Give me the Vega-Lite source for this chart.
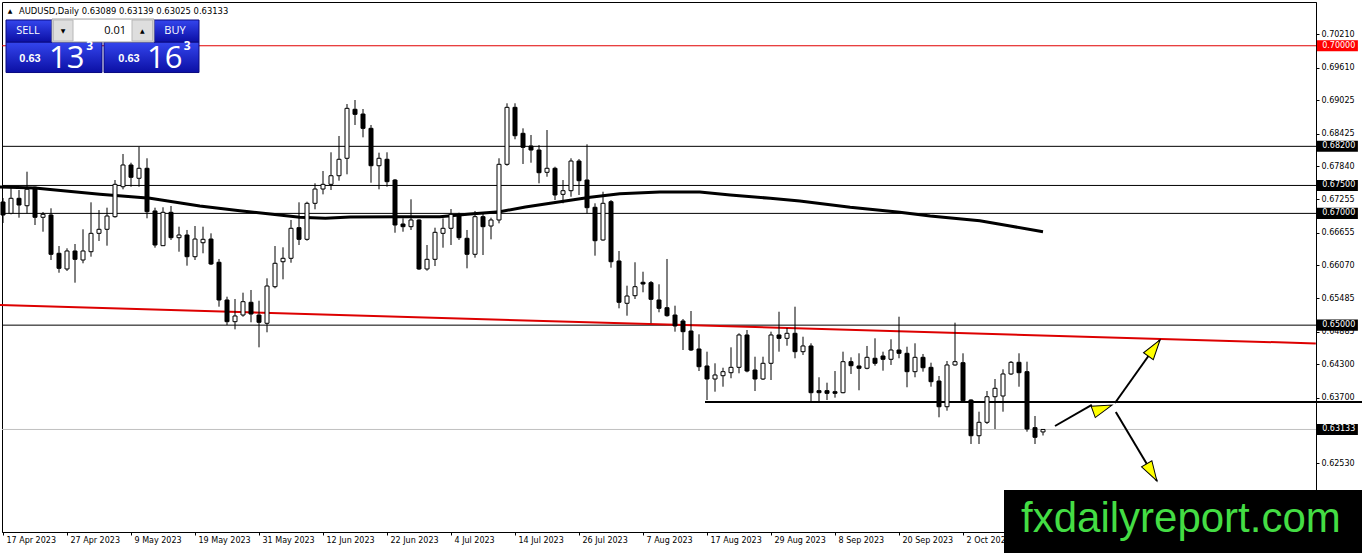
{
  "$schema": "https://vega.github.io/schema/vega-lite/v6.json",
  "width": 1314,
  "height": 530,
  "autosize": {"type": "none"},
  "padding": {"left": 2, "top": 2, "right": 46, "bottom": 21},
  "background": "white",
  "config": {"view": {"stroke": "black", "strokeWidth": 1}, "font": "DejaVu Sans", "scale": {"continuousPadding": 0}},
  "datasets": {
    "candles": [
      {"i":0,"o":0.67204,"h":0.67275,"l":0.66828,"c":0.66971},
      {"i":1,"o":0.67001,"h":0.67477,"l":0.66983,"c":0.67270},
      {"i":2,"o":0.67270,"h":0.67418,"l":0.66923,"c":0.67150},
      {"i":3,"o":0.67137,"h":0.67746,"l":0.67001,"c":0.67431},
      {"i":4,"o":0.67467,"h":0.67477,"l":0.66792,"c":0.66930},
      {"i":5,"o":0.66930,"h":0.67025,"l":0.66672,"c":0.66983},
      {"i":6,"o":0.66971,"h":0.67091,"l":0.66166,"c":0.66268},
      {"i":7,"o":0.66286,"h":0.66416,"l":0.65938,"c":0.66017},
      {"i":8,"o":0.66005,"h":0.66375,"l":0.65969,"c":0.66327},
      {"i":9,"o":0.66327,"h":0.66452,"l":0.65760,"c":0.66178},
      {"i":10,"o":0.66166,"h":0.66715,"l":0.66107,"c":0.66327},
      {"i":11,"o":0.66314,"h":0.67198,"l":0.66225,"c":0.66643},
      {"i":12,"o":0.66643,"h":0.67060,"l":0.66506,"c":0.66715},
      {"i":13,"o":0.66715,"h":0.67102,"l":0.66422,"c":0.66953},
      {"i":14,"o":0.66941,"h":0.67597,"l":0.66923,"c":0.67520},
      {"i":15,"o":0.67477,"h":0.68063,"l":0.67431,"c":0.67866},
      {"i":16,"o":0.67866,"h":0.67907,"l":0.67477,"c":0.67646},
      {"i":17,"o":0.67628,"h":0.68193,"l":0.67477,"c":0.67807},
      {"i":18,"o":0.67807,"h":0.67986,"l":0.66912,"c":0.67030},
      {"i":19,"o":0.67043,"h":0.67102,"l":0.66386,"c":0.66434},
      {"i":20,"o":0.66422,"h":0.67109,"l":0.66416,"c":0.67019},
      {"i":21,"o":0.67019,"h":0.67132,"l":0.66524,"c":0.66565},
      {"i":22,"o":0.66565,"h":0.66762,"l":0.66314,"c":0.66613},
      {"i":23,"o":0.66613,"h":0.66703,"l":0.66064,"c":0.66225},
      {"i":24,"o":0.66225,"h":0.66774,"l":0.66166,"c":0.66541},
      {"i":25,"o":0.66475,"h":0.66762,"l":0.66286,"c":0.66536},
      {"i":26,"o":0.66541,"h":0.66643,"l":0.66076,"c":0.66094},
      {"i":27,"o":0.66125,"h":0.66184,"l":0.65330,"c":0.65450},
      {"i":28,"o":0.65450,"h":0.65509,"l":0.65002,"c":0.65062},
      {"i":29,"o":0.65062,"h":0.65468,"l":0.64925,"c":0.65164},
      {"i":30,"o":0.65181,"h":0.65581,"l":0.65151,"c":0.65420},
      {"i":31,"o":0.65409,"h":0.65629,"l":0.65051,"c":0.65199},
      {"i":32,"o":0.65181,"h":0.65437,"l":0.64603,"c":0.65051},
      {"i":33,"o":0.65033,"h":0.65838,"l":0.64872,"c":0.65700},
      {"i":34,"o":0.65688,"h":0.66416,"l":0.65659,"c":0.66107},
      {"i":35,"o":0.66135,"h":0.66393,"l":0.65820,"c":0.66196},
      {"i":36,"o":0.66196,"h":0.66882,"l":0.66117,"c":0.66733},
      {"i":37,"o":0.66744,"h":0.67198,"l":0.66434,"c":0.66536},
      {"i":38,"o":0.66536,"h":0.67209,"l":0.66511,"c":0.67180},
      {"i":39,"o":0.67180,"h":0.67538,"l":0.67073,"c":0.67436},
      {"i":40,"o":0.67436,"h":0.67758,"l":0.67341,"c":0.67520},
      {"i":41,"o":0.67520,"h":0.68093,"l":0.67418,"c":0.67674},
      {"i":42,"o":0.67674,"h":0.68385,"l":0.67585,"c":0.67968},
      {"i":43,"o":0.67986,"h":0.68957,"l":0.67699,"c":0.68880},
      {"i":44,"o":0.68863,"h":0.69029,"l":0.68582,"c":0.68773},
      {"i":45,"o":0.68778,"h":0.68868,"l":0.68361,"c":0.68522},
      {"i":46,"o":0.68522,"h":0.68582,"l":0.67549,"c":0.67853},
      {"i":47,"o":0.67853,"h":0.68086,"l":0.67431,"c":0.67986},
      {"i":48,"o":0.67968,"h":0.68093,"l":0.67477,"c":0.67567},
      {"i":49,"o":0.67597,"h":0.67615,"l":0.66654,"c":0.66792},
      {"i":50,"o":0.66810,"h":0.66912,"l":0.66672,"c":0.66762},
      {"i":51,"o":0.66762,"h":0.67252,"l":0.66703,"c":0.66882},
      {"i":52,"o":0.66882,"h":0.66894,"l":0.65987,"c":0.66005},
      {"i":53,"o":0.66005,"h":0.66434,"l":0.65974,"c":0.66178},
      {"i":54,"o":0.66178,"h":0.66744,"l":0.66058,"c":0.66661},
      {"i":55,"o":0.66643,"h":0.66912,"l":0.66386,"c":0.66733},
      {"i":56,"o":0.66733,"h":0.67078,"l":0.66434,"c":0.66983},
      {"i":57,"o":0.66983,"h":0.67012,"l":0.66524,"c":0.66565},
      {"i":58,"o":0.66554,"h":0.66703,"l":0.66017,"c":0.66268},
      {"i":59,"o":0.66268,"h":0.67043,"l":0.66207,"c":0.66941},
      {"i":60,"o":0.66941,"h":0.67001,"l":0.66255,"c":0.66762},
      {"i":61,"o":0.66774,"h":0.66923,"l":0.66536,"c":0.66882},
      {"i":62,"o":0.66882,"h":0.67986,"l":0.66822,"c":0.67878},
      {"i":63,"o":0.67878,"h":0.68970,"l":0.67853,"c":0.68898},
      {"i":64,"o":0.68898,"h":0.68970,"l":0.68326,"c":0.68390},
      {"i":65,"o":0.68433,"h":0.68522,"l":0.67884,"c":0.68182},
      {"i":66,"o":0.68206,"h":0.68403,"l":0.67907,"c":0.68134},
      {"i":67,"o":0.68134,"h":0.68224,"l":0.67538,"c":0.67728},
      {"i":68,"o":0.67735,"h":0.68492,"l":0.67656,"c":0.67807},
      {"i":69,"o":0.67807,"h":0.67835,"l":0.67239,"c":0.67329},
      {"i":70,"o":0.67341,"h":0.67597,"l":0.67180,"c":0.67406},
      {"i":71,"o":0.67406,"h":0.67986,"l":0.67298,"c":0.67937},
      {"i":72,"o":0.67937,"h":0.67973,"l":0.67329,"c":0.67585},
      {"i":73,"o":0.67597,"h":0.68236,"l":0.67001,"c":0.67102},
      {"i":74,"o":0.67109,"h":0.67180,"l":0.66243,"c":0.66511},
      {"i":75,"o":0.66524,"h":0.67388,"l":0.66511,"c":0.67180},
      {"i":76,"o":0.67209,"h":0.67239,"l":0.66028,"c":0.66135},
      {"i":77,"o":0.66148,"h":0.66327,"l":0.65301,"c":0.65409},
      {"i":78,"o":0.65391,"h":0.65706,"l":0.65169,"c":0.65521},
      {"i":79,"o":0.65527,"h":0.66125,"l":0.65468,"c":0.65688},
      {"i":80,"o":0.65767,"h":0.65956,"l":0.65588,"c":0.65736},
      {"i":81,"o":0.65760,"h":0.65790,"l":0.65033,"c":0.65462},
      {"i":82,"o":0.65450,"h":0.65731,"l":0.65230,"c":0.65301},
      {"i":83,"o":0.65312,"h":0.66184,"l":0.65151,"c":0.65169},
      {"i":84,"o":0.65181,"h":0.65348,"l":0.64883,"c":0.64985},
      {"i":85,"o":0.65074,"h":0.65110,"l":0.64555,"c":0.64883},
      {"i":86,"o":0.64895,"h":0.65253,"l":0.64537,"c":0.64555},
      {"i":87,"o":0.64573,"h":0.64836,"l":0.64179,"c":0.64256},
      {"i":88,"o":0.64269,"h":0.64525,"l":0.63660,"c":0.64036},
      {"i":89,"o":0.64036,"h":0.64317,"l":0.63809,"c":0.64108},
      {"i":90,"o":0.64095,"h":0.64238,"l":0.63898,"c":0.64167},
      {"i":91,"o":0.64149,"h":0.64603,"l":0.64049,"c":0.64245},
      {"i":92,"o":0.64245,"h":0.64854,"l":0.64138,"c":0.64824},
      {"i":93,"o":0.64824,"h":0.64913,"l":0.64156,"c":0.64179},
      {"i":94,"o":0.64197,"h":0.64435,"l":0.63821,"c":0.64036},
      {"i":95,"o":0.64036,"h":0.64435,"l":0.64018,"c":0.64317},
      {"i":96,"o":0.64317,"h":0.64883,"l":0.64018,"c":0.64824},
      {"i":97,"o":0.64824,"h":0.65240,"l":0.64525,"c":0.64764},
      {"i":98,"o":0.64764,"h":0.64949,"l":0.64632,"c":0.64854},
      {"i":99,"o":0.64854,"h":0.65330,"l":0.64407,"c":0.64525},
      {"i":100,"o":0.64525,"h":0.64793,"l":0.64466,"c":0.64627},
      {"i":101,"o":0.64627,"h":0.64675,"l":0.63630,"c":0.63791},
      {"i":102,"o":0.63827,"h":0.64067,"l":0.63630,"c":0.63791},
      {"i":103,"o":0.63827,"h":0.63970,"l":0.63660,"c":0.63780},
      {"i":104,"o":0.63809,"h":0.64179,"l":0.63702,"c":0.63780},
      {"i":105,"o":0.63791,"h":0.64525,"l":0.63780,"c":0.64346},
      {"i":106,"o":0.64346,"h":0.64424,"l":0.64126,"c":0.64274},
      {"i":107,"o":0.64269,"h":0.64496,"l":0.63834,"c":0.64228},
      {"i":108,"o":0.64228,"h":0.64627,"l":0.64210,"c":0.64424},
      {"i":109,"o":0.64407,"h":0.64764,"l":0.64274,"c":0.64317},
      {"i":110,"o":0.64448,"h":0.64525,"l":0.64185,"c":0.64389},
      {"i":111,"o":0.64389,"h":0.64747,"l":0.64287,"c":0.64555},
      {"i":112,"o":0.64555,"h":0.65151,"l":0.64407,"c":0.64496},
      {"i":113,"o":0.64496,"h":0.64614,"l":0.63888,"c":0.64167},
      {"i":114,"o":0.64167,"h":0.64675,"l":0.64067,"c":0.64424},
      {"i":115,"o":0.64424,"h":0.64484,"l":0.64167,"c":0.64238},
      {"i":116,"o":0.64245,"h":0.64328,"l":0.63898,"c":0.63988},
      {"i":117,"o":0.64000,"h":0.64090,"l":0.63351,"c":0.63540},
      {"i":118,"o":0.63540,"h":0.64358,"l":0.63469,"c":0.64287},
      {"i":119,"o":0.64287,"h":0.65044,"l":0.64274,"c":0.64346},
      {"i":120,"o":0.64328,"h":0.64496,"l":0.63630,"c":0.63648},
      {"i":121,"o":0.63660,"h":0.63673,"l":0.62873,"c":0.63021},
      {"i":122,"o":0.63021,"h":0.63451,"l":0.62873,"c":0.63261},
      {"i":123,"o":0.63261,"h":0.63821,"l":0.63231,"c":0.63719},
      {"i":124,"o":0.63719,"h":0.64036,"l":0.63141,"c":0.63870},
      {"i":125,"o":0.63732,"h":0.64210,"l":0.63451,"c":0.64126},
      {"i":126,"o":0.64126,"h":0.64358,"l":0.64108,"c":0.64335},
      {"i":127,"o":0.64335,"h":0.64496,"l":0.63898,"c":0.64149},
      {"i":128,"o":0.64167,"h":0.64346,"l":0.63093,"c":0.63141},
      {"i":129,"o":0.63165,"h":0.63374,"l":0.62873,"c":0.62993},
      {"i":130,"o":0.63089,"h":0.63139,"l":0.63025,"c":0.63133}
    ],
    "ma": [
      {"i":-0.4,"p":0.67472},{"i":4,"p":0.67454},{"i":5.9,"p":0.67427},{"i":12.1,"p":0.67341},
      {"i":18.4,"p":0.67270},{"i":24.6,"p":0.67132},{"i":29.6,"p":0.67048},{"i":33.4,"p":0.66988},
      {"i":37.1,"p":0.66930},{"i":40.3,"p":0.66912},{"i":43.4,"p":0.66935},{"i":49.6,"p":0.66941},
      {"i":54.6,"p":0.66941},{"i":58.4,"p":0.66988},{"i":62.1,"p":0.67030},{"i":65.3,"p":0.67114},
      {"i":68.4,"p":0.67180},{"i":73.4,"p":0.67288},{"i":77.1,"p":0.67352},{"i":82.1,"p":0.67383},
      {"i":87.1,"p":0.67383},{"i":90.9,"p":0.67329},{"i":95.9,"p":0.67270},{"i":99.6,"p":0.67222},
      {"i":105.9,"p":0.67109},{"i":112.1,"p":0.67019},{"i":115.9,"p":0.66953},{"i":122.1,"p":0.66869},
      {"i":125.9,"p":0.66774},{"i":130,"p":0.66672}
    ],
    "trend": [{"i":-0.375,"p":0.65359},{"i":164.1,"p":0.64673}],
    "levels": [
      {"p":0.70000,"kind":"red"},{"p":0.68200,"kind":"black"},{"p":0.67500,"kind":"black"},
      {"p":0.67000,"kind":"black"},{"p":0.65000,"kind":"black"}
    ],
    "bid": [{"p":0.63133,"kind":"black"}],
    "support": [{"i":87.75,"i2":169.9,"p":0.63625}],
    "arrows": [
      {"i":131.5,"p":0.63195,"i2":136.1,"p2":0.63571},
      {"i":139,"p":0.63607,"i2":144.6,"p2":0.64734},
      {"i":139.1,"p":0.63446,"i2":144.25,"p2":0.62211}
    ],
    "heads": [
      {"i":137.45,"p":0.63508,"heading":70},
      {"i":143.9,"p":0.64589,"heading":35.5},
      {"i":143.6,"p":0.62365,"heading":149.3}
    ],
    "watermark": [{"x0":125.125,"x1":169.875,"y0":0.62050,"y1":0.60900,"t":"fxdailyreport.com","i":127.25,"p":0.61298}],
    "panel": [
      {"part":"base","x0":0.375,"x1":12.375,"y0":0.70067,"y1":0.69521},
      {"part":"base","x0":12.625,"x1":24.5,"y0":0.70067,"y1":0.69521},
      {"part":"head","x0":0.375,"x1":6.125,"y0":0.70461,"y1":0.70067},
      {"part":"head","x0":18.875,"x1":24.5,"y0":0.70461,"y1":0.70067},
      {"part":"field","x0":6.125,"x1":18.875,"y0":0.70478,"y1":0.70067},
      {"part":"button","x0":6.3,"x1":8.75,"y0":0.70461,"y1":0.70085},
      {"part":"button","x0":16.125,"x1":18.7,"y0":0.70461,"y1":0.70085}
    ],
    "captions": [
      {"t":"SELL","i":3.125,"p":0.70264,"role":"tab"},
      {"t":"BUY","i":21.5,"p":0.70264,"role":"tab"},
      {"t":"0.01","i":15.375,"p":0.70264,"role":"lot"},
      {"t":"▼","i":7.5,"p":0.70264,"role":"spin"},
      {"t":"▲","i":17.4,"p":0.70264,"role":"spin"},
      {"t":"0.63","i":3.375,"p":0.69709,"role":"small"},
      {"t":"0.63","i":15.75,"p":0.69709,"role":"small"},
      {"t":"13","i":5.75,"p":0.69602,"role":"big"},
      {"t":"16","i":18,"p":0.69602,"role":"big"},
      {"t":"3","i":10.4,"p":0.69995,"role":"sup"},
      {"t":"3","i":22.6,"p":0.69995,"role":"sup"},
      {"t":"AUDUSD,Daily  0.63089 0.63139 0.63025 0.63133","i":2,"p":0.70568,"role":"header"},
      {"t":"▲","i":0.875,"p":0.70622,"role":"marker"}
    ]
  },
  "layer": [
    {
      "data": {"name": "levels"},
      "mark": {"type": "rule", "strokeWidth": 1},
      "encoding": {
        "y": {"field": "p", "type": "quantitative", "scale": {"domain": [0.61298, 0.70783], "zero": false, "nice": false, "padding": 0}},
        "color": {"field": "kind", "type": "nominal", "scale": {"domain": ["black", "red"], "range": ["#000000", "#e00000"]}, "legend": null}
      }
    },
    {
      "data": {"name": "bid"},
      "mark": {"type": "rule", "strokeWidth": 1, "color": "#c0c0c0"},
      "encoding": {
        "y": {"field": "p", "type": "quantitative", "scale": {"domain": [0.61298, 0.70783], "zero": false, "nice": false, "padding": 0}}
      }
    },
    {
      "data": {"name": "support"},
      "mark": {"type": "rule", "strokeWidth": 2, "color": "black"},
      "encoding": {
        "x": {"field": "i", "type": "quantitative", "scale": {"domain": [-0.125, 164.125], "zero": false, "nice": false, "padding": 0}},
        "x2": {"field": "i2"},
        "y": {"field": "p", "type": "quantitative", "scale": {"domain": [0.61298, 0.70783], "zero": false, "nice": false, "padding": 0}}
      }
    },
    {
      "data": {"name": "ma"},
      "mark": {"type": "line", "strokeWidth": 3, "color": "black"},
      "encoding": {
        "x": {"field": "i", "type": "quantitative", "scale": {"domain": [-0.125, 164.125], "zero": false, "nice": false, "padding": 0}},
        "y": {"field": "p", "type": "quantitative", "scale": {"domain": [0.61298, 0.70783], "zero": false, "nice": false, "padding": 0}},
        "order": {"field": "i"}
      }
    },
    {
      "data": {"name": "trend"},
      "mark": {"type": "line", "strokeWidth": 2, "color": "#dd0000"},
      "encoding": {
        "x": {"field": "i", "type": "quantitative", "scale": {"domain": [-0.125, 164.125], "zero": false, "nice": false, "padding": 0}},
        "y": {"field": "p", "type": "quantitative", "scale": {"domain": [0.61298, 0.70783], "zero": false, "nice": false, "padding": 0}}
      }
    },
    {
      "data": {"name": "candles"},
      "mark": {"type": "rule", "color": "black", "strokeWidth": 1},
      "encoding": {
        "x": {
          "field": "i", "type": "quantitative",
          "scale": {"domain": [-0.125, 164.125], "zero": false, "nice": false, "padding": 0},
          "axis": {
            "title": null, "values": [0,8,16,24,32,40,48,56,64,72,80,88,96,104,112,120],
            "labelExpr": "['17 Apr 2023','27 Apr 2023','9 May 2023','19 May 2023','31 May 2023','12 Jun 2023','22 Jun 2023','4 Jul 2023','14 Jul 2023','26 Jul 2023','7 Aug 2023','17 Aug 2023','29 Aug 2023','8 Sep 2023','20 Sep 2023','2 Oct 2023'][round(datum.value / 8)]",
            "labelAlign": "left", "labelBaseline": "top", "labelOffset": 3, "labelPadding": 1,
            "labelFont": "DejaVu Sans", "labelFontSize": 8, "labelColor": "black",
            "tickSize": 3, "tickColor": "black", "domainColor": "black",
            "labelOverlap": false, "labelFlush": false, "labelBound": false, "grid": false
          }
        },
        "y": {
          "field": "l", "type": "quantitative",
          "scale": {"domain": [0.61298, 0.70783], "zero": false, "nice": false, "padding": 0},
          "axis": {
            "title": null, "orient": "right",
            "values": [0.70210, 0.69610, 0.69025, 0.68425, 0.67840, 0.67255, 0.66655, 0.66070, 0.65485, 0.64885, 0.64300, 0.63700, 0.62530],
            "format": ".5f", "labelFont": "DejaVu Sans", "labelFontSize": 8, "labelColor": "black",
            "labelPadding": 2, "tickSize": 3, "tickColor": "black", "domainColor": "black",
            "labelOverlap": false, "labelBound": false, "grid": false
          }
        },
        "y2": {"field": "h"}
      }
    },
    {
      "data": {"name": "candles"},
      "mark": {"type": "bar", "size": 4, "stroke": "black", "strokeWidth": 1},
      "encoding": {
        "x": {"field": "i", "type": "quantitative", "scale": {"domain": [-0.125, 164.125], "zero": false, "nice": false, "padding": 0}},
        "y": {"field": "o", "type": "quantitative", "scale": {"domain": [0.61298, 0.70783], "zero": false, "nice": false, "padding": 0}},
        "y2": {"field": "c"},
        "fill": {"condition": {"test": "datum.c >= datum.o", "value": "white"}, "value": "black"}
      }
    },
    {
      "data": {"name": "arrows"},
      "mark": {"type": "rule", "strokeWidth": 2, "color": "black"},
      "encoding": {
        "x": {"field": "i", "type": "quantitative", "scale": {"domain": [-0.125, 164.125], "zero": false, "nice": false, "padding": 0}},
        "x2": {"field": "i2"},
        "y": {"field": "p", "type": "quantitative", "scale": {"domain": [0.61298, 0.70783], "zero": false, "nice": false, "padding": 0}},
        "y2": {"field": "p2"}
      }
    },
    {
      "data": {"name": "heads"},
      "mark": {"type": "point", "shape": "M0,-1L0.6,1L-0.6,1Z", "size": 400, "filled": true, "fill": "#ffff00", "stroke": "black", "strokeWidth": 1, "opacity": 1},
      "encoding": {
        "x": {"field": "i", "type": "quantitative", "scale": {"domain": [-0.125, 164.125], "zero": false, "nice": false, "padding": 0}},
        "y": {"field": "p", "type": "quantitative", "scale": {"domain": [0.61298, 0.70783], "zero": false, "nice": false, "padding": 0}},
        "angle": {"field": "heading", "type": "quantitative", "scale": null}
      }
    },
    {
      "data": {"name": "levels"},
      "mark": {"type": "point", "shape": "M-1,-0.27H1V0.27H-1Z", "size": 1681, "filled": true, "opacity": 1},
      "encoding": {
        "x": {"datum": 166.8, "type": "quantitative", "scale": {"domain": [-0.125, 164.125], "zero": false, "nice": false, "padding": 0}},
        "y": {"field": "p", "type": "quantitative", "scale": {"domain": [0.61298, 0.70783], "zero": false, "nice": false, "padding": 0}},
        "fill": {"field": "kind", "type": "nominal", "scale": {"domain": ["black", "red"], "range": ["#000000", "#ff0000"]}, "legend": null}
      }
    },
    {
      "data": {"name": "bid"},
      "mark": {"type": "point", "shape": "M-1,-0.27H1V0.27H-1Z", "size": 1681, "filled": true, "opacity": 1, "fill": "black"},
      "encoding": {
        "x": {"datum": 166.8, "type": "quantitative", "scale": {"domain": [-0.125, 164.125], "zero": false, "nice": false, "padding": 0}},
        "y": {"field": "p", "type": "quantitative", "scale": {"domain": [0.61298, 0.70783], "zero": false, "nice": false, "padding": 0}}
      }
    },
    {
      "data": {"name": "levels"},
      "mark": {"type": "text", "align": "left", "baseline": "middle", "font": "DejaVu Sans", "fontSize": 8, "color": "white"},
      "encoding": {
        "x": {"datum": 164.9, "type": "quantitative", "scale": {"domain": [-0.125, 164.125], "zero": false, "nice": false, "padding": 0}},
        "y": {"field": "p", "type": "quantitative", "scale": {"domain": [0.61298, 0.70783], "zero": false, "nice": false, "padding": 0}},
        "text": {"field": "p", "type": "quantitative", "format": ".5f"}
      }
    },
    {
      "data": {"name": "bid"},
      "mark": {"type": "text", "align": "left", "baseline": "middle", "font": "DejaVu Sans", "fontSize": 8, "color": "white"},
      "encoding": {
        "x": {"datum": 164.9, "type": "quantitative", "scale": {"domain": [-0.125, 164.125], "zero": false, "nice": false, "padding": 0}},
        "y": {"field": "p", "type": "quantitative", "scale": {"domain": [0.61298, 0.70783], "zero": false, "nice": false, "padding": 0}},
        "text": {"field": "p", "type": "quantitative", "format": ".5f"}
      }
    },
    {
      "data": {"name": "watermark"},
      "mark": {"type": "rect", "color": "black"},
      "encoding": {
        "x": {"field": "x0", "type": "quantitative", "scale": {"domain": [-0.125, 164.125], "zero": false, "nice": false, "padding": 0}},
        "x2": {"field": "x1"},
        "y": {"field": "y0", "type": "quantitative", "scale": {"domain": [0.61298, 0.70783], "zero": false, "nice": false, "padding": 0}},
        "y2": {"field": "y1"}
      }
    },
    {
      "data": {"name": "watermark"},
      "mark": {"type": "text", "align": "left", "baseline": "alphabetic", "font": "Liberation Sans", "fontSize": 42, "color": "#44dd44"},
      "encoding": {
        "x": {"field": "i", "type": "quantitative", "scale": {"domain": [-0.125, 164.125], "zero": false, "nice": false, "padding": 0}},
        "y": {"field": "p", "type": "quantitative", "scale": {"domain": [0.61298, 0.70783], "zero": false, "nice": false, "padding": 0}},
        "text": {"field": "t"}
      }
    },
    {
      "data": {"name": "panel"},
      "transform": [{"filter": {"field": "part", "oneOf": ["base", "head"]}}],
      "mark": {
        "type": "rect",
        "fill": {"gradient": "linear", "x1": 0, "y1": 0, "x2": 0, "y2": 1, "stops": [{"offset": 0, "color": "#3446ee"}, {"offset": 1, "color": "#0b0fa4"}]},
        "stroke": "#0a0a80", "strokeWidth": 1
      },
      "encoding": {
        "x": {"field": "x0", "type": "quantitative", "scale": {"domain": [-0.125, 164.125], "zero": false, "nice": false, "padding": 0}},
        "x2": {"field": "x1"},
        "y": {"field": "y0", "type": "quantitative", "scale": {"domain": [0.61298, 0.70783], "zero": false, "nice": false, "padding": 0}},
        "y2": {"field": "y1"}
      }
    },
    {
      "data": {"name": "panel"},
      "transform": [{"filter": {"field": "part", "equal": "field"}}],
      "mark": {"type": "rect", "fill": "white", "stroke": "#a0a0a0", "strokeWidth": 1},
      "encoding": {
        "x": {"field": "x0", "type": "quantitative", "scale": {"domain": [-0.125, 164.125], "zero": false, "nice": false, "padding": 0}},
        "x2": {"field": "x1"},
        "y": {"field": "y0", "type": "quantitative", "scale": {"domain": [0.61298, 0.70783], "zero": false, "nice": false, "padding": 0}},
        "y2": {"field": "y1"}
      }
    },
    {
      "data": {"name": "panel"},
      "transform": [{"filter": {"field": "part", "equal": "button"}}],
      "mark": {"type": "rect", "fill": "#dedede", "stroke": "#b8b8b8", "strokeWidth": 1},
      "encoding": {
        "x": {"field": "x0", "type": "quantitative", "scale": {"domain": [-0.125, 164.125], "zero": false, "nice": false, "padding": 0}},
        "x2": {"field": "x1"},
        "y": {"field": "y0", "type": "quantitative", "scale": {"domain": [0.61298, 0.70783], "zero": false, "nice": false, "padding": 0}},
        "y2": {"field": "y1"}
      }
    },
    {
      "data": {"name": "captions"},
      "transform": [{"filter": {"field": "role", "equal": "tab"}}],
      "mark": {"type": "text", "align": "center", "baseline": "middle", "font": "Open Sans", "fontSize": 11, "color": "white"},
      "encoding": {
        "x": {"field": "i", "type": "quantitative", "scale": {"domain": [-0.125, 164.125], "zero": false, "nice": false, "padding": 0}},
        "y": {"field": "p", "type": "quantitative", "scale": {"domain": [0.61298, 0.70783], "zero": false, "nice": false, "padding": 0}},
        "text": {"field": "t"}
      }
    },
    {
      "data": {"name": "captions"},
      "transform": [{"filter": {"field": "role", "equal": "lot"}}],
      "mark": {"type": "text", "align": "right", "baseline": "middle", "font": "Open Sans", "fontSize": 11, "color": "black"},
      "encoding": {
        "x": {"field": "i", "type": "quantitative", "scale": {"domain": [-0.125, 164.125], "zero": false, "nice": false, "padding": 0}},
        "y": {"field": "p", "type": "quantitative", "scale": {"domain": [0.61298, 0.70783], "zero": false, "nice": false, "padding": 0}},
        "text": {"field": "t"}
      }
    },
    {
      "data": {"name": "captions"},
      "transform": [{"filter": {"field": "role", "oneOf": ["spin", "marker"]}}],
      "mark": {"type": "text", "align": "center", "baseline": "middle", "font": "DejaVu Sans", "fontSize": 6, "color": "black"},
      "encoding": {
        "x": {"field": "i", "type": "quantitative", "scale": {"domain": [-0.125, 164.125], "zero": false, "nice": false, "padding": 0}},
        "y": {"field": "p", "type": "quantitative", "scale": {"domain": [0.61298, 0.70783], "zero": false, "nice": false, "padding": 0}},
        "text": {"field": "t"}
      }
    },
    {
      "data": {"name": "captions"},
      "transform": [{"filter": {"field": "role", "equal": "small"}}],
      "mark": {"type": "text", "align": "center", "baseline": "alphabetic", "font": "Liberation Sans", "fontSize": 11, "fontWeight": "bold", "color": "white"},
      "encoding": {
        "x": {"field": "i", "type": "quantitative", "scale": {"domain": [-0.125, 164.125], "zero": false, "nice": false, "padding": 0}},
        "y": {"field": "p", "type": "quantitative", "scale": {"domain": [0.61298, 0.70783], "zero": false, "nice": false, "padding": 0}},
        "text": {"field": "t"}
      }
    },
    {
      "data": {"name": "captions"},
      "transform": [{"filter": {"field": "role", "equal": "big"}}],
      "mark": {"type": "text", "align": "left", "baseline": "alphabetic", "font": "Open Sans", "fontSize": 31, "color": "white"},
      "encoding": {
        "x": {"field": "i", "type": "quantitative", "scale": {"domain": [-0.125, 164.125], "zero": false, "nice": false, "padding": 0}},
        "y": {"field": "p", "type": "quantitative", "scale": {"domain": [0.61298, 0.70783], "zero": false, "nice": false, "padding": 0}},
        "text": {"field": "t"}
      }
    },
    {
      "data": {"name": "captions"},
      "transform": [{"filter": {"field": "role", "equal": "sup"}}],
      "mark": {"type": "text", "align": "left", "baseline": "middle", "font": "Open Sans", "fontSize": 12, "fontWeight": "bold", "color": "white"},
      "encoding": {
        "x": {"field": "i", "type": "quantitative", "scale": {"domain": [-0.125, 164.125], "zero": false, "nice": false, "padding": 0}},
        "y": {"field": "p", "type": "quantitative", "scale": {"domain": [0.61298, 0.70783], "zero": false, "nice": false, "padding": 0}},
        "text": {"field": "t"}
      }
    },
    {
      "data": {"name": "captions"},
      "transform": [{"filter": {"field": "role", "equal": "header"}}],
      "mark": {"type": "text", "align": "left", "baseline": "alphabetic", "font": "DejaVu Sans", "fontSize": 8.4, "color": "black"},
      "encoding": {
        "x": {"field": "i", "type": "quantitative", "scale": {"domain": [-0.125, 164.125], "zero": false, "nice": false, "padding": 0}},
        "y": {"field": "p", "type": "quantitative", "scale": {"domain": [0.61298, 0.70783], "zero": false, "nice": false, "padding": 0}},
        "text": {"field": "t"}
      }
    }
  ]
}
